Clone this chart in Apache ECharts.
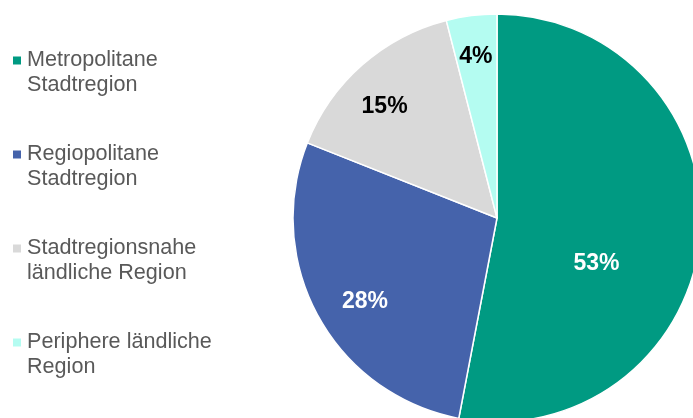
<!DOCTYPE html>
<html>
<head>
<meta charset="utf-8">
<script src="https://cdn.jsdelivr.net/npm/echarts@6/dist/echarts.min.js"></script>
<style>
  html, body { margin: 0; padding: 0; background: #fff; }
  #chart { width: 693px; height: 418px; }
</style>
</head>
<body>
<div id="chart"></div>
<script>
// Share of each region type (percent)
const categories = [
  'Metropolitane\nStadtregion',
  'Regiopolitane\nStadtregion',
  'Stadtregionsnahe\nländliche Region',
  'Periphere ländliche\nRegion'
];
const shares = [53, 28, 15, 4];

const sliceColors = ['#009A82', '#4563AB', '#D9D9D9', '#B4FCF1'];
const labelColors = ['#ffffff', '#ffffff', '#000000', '#000000'];
// nudges applied to the "inside" label anchor of each slice
const labelOffsets = [[-5, 36], [-40, 33], [-43, -33], [-8, -57]];

const chart = echarts.init(document.getElementById('chart'), null, { renderer: 'canvas' });

const data = categories.map((name, i) => ({
  name,
  value: shares[i],
  itemStyle: { color: sliceColors[i] },
  label: { color: labelColors[i], offset: labelOffsets[i] }
}));

chart.setOption({
  animation: false,
  legend: {
    orient: 'vertical',
    left: 11,
    top: 23,
    padding: 0,
    itemWidth: 10,
    itemHeight: 10,
    itemGap: 19,
    icon: 'rect',
    data: categories,
    // a leading blank line keeps the marker level with the first text line
    formatter: name => '\n' + name,
    textStyle: {
      fontFamily: 'Liberation Sans, Arial, sans-serif',
      fontSize: 21.6,
      color: '#595959',
      lineHeight: 25
    }
  },
  series: [{
    type: 'pie',
    center: [497, 218],
    radius: [0, 204],
    startAngle: 90,
    clockwise: true,
    avoidLabelOverlap: false,
    itemStyle: { borderColor: '#ffffff', borderWidth: 1.5 },
    label: {
      show: true,
      position: 'inside',
      formatter: '{c}%',
      fontFamily: 'Liberation Sans, Arial, sans-serif',
      fontWeight: 'bold',
      fontSize: 23
    },
    labelLine: { show: false },
    emphasis: { disabled: true },
    data
  }]
});
</script>
</body>
</html>
